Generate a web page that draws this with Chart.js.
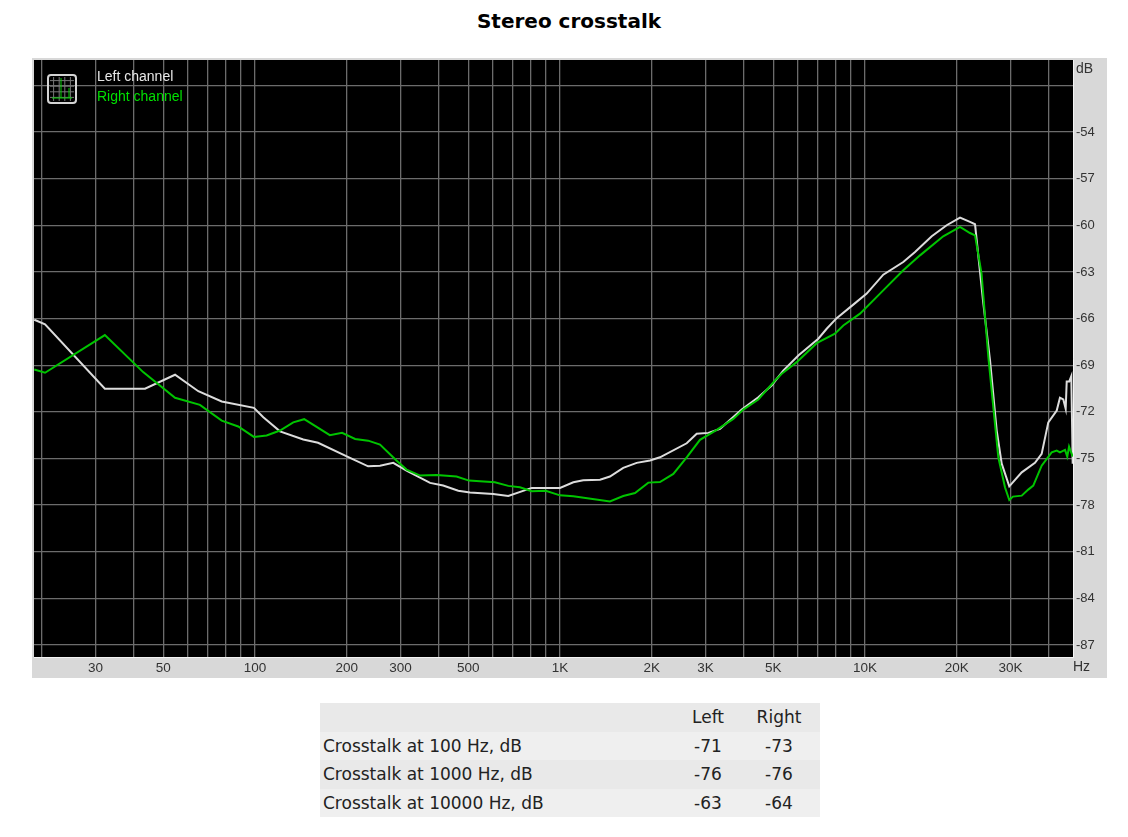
<html>

<head>
    <title>Stereo crosstalk</title>
    <style>
        html,
        body {
            margin: 0;
            background: #fff;
            font-family: "DejaVu Sans", sans-serif;
        }

        h1 {
            position: absolute;
            left: 0;
            top: 10px;
            width: 1138px;
            margin: 0;
            text-align: center;
            font-size: 20px;
            line-height: 22px;
            color: #000;
        }

        #chart {
            position: absolute;
            left: 32px;
            top: 58px;
        }

        table {
            position: absolute;
            left: 320px;
            top: 703px;
            width: 500px;
            border-collapse: collapse;
            table-layout: fixed;
            font-size: 17px;
            color: #222;
        }

        td {
            height: 28.5px;
            padding: 0 0 0 3px;
        }

        td.num {
            text-align: center;
            padding: 0;
        }

        tr:nth-child(odd) {
            background: #e9e9e9;
        }

        tr:nth-child(even) {
            background: #efefef;
        }
    </style>
</head>

<body>
    <h1>Stereo crosstalk</h1>
    <canvas id="chart" width="1075" height="620" style="width:1075px; height:620px;"></canvas>
    <table>
        <colgroup>
            <col style="width:358px">
            <col style="width:60px">
            <col style="width:82px">
        </colgroup>
        <tbody id="results"></tbody>
    </table>

    <script src="https://cdn.jsdelivr.net/npm/chart.js@4"></script>
    <script>
        // curves, Hz / dB
        var leftHz = [18.9, 20.5, 32.2, 43.6, 54.7, 65.2, 77.8, 99.2, 106.5, 120.8, 144, 161, 200, 235, 257, 284, 314, 375, 414, 464, 507, 604, 677, 808, 1000, 1106, 1192, 1353, 1458, 1612, 1784, 1973, 2127, 2603, 2807, 3064, 3347, 3943, 4469, 4944, 5395, 6045, 7029, 7488, 8075, 9154, 10130, 11480, 13350, 14590, 16550, 18530, 20490, 22090, 22950, 24370, 25700, 27030, 28070, 29720, 32650, 36080, 37950, 39900, 42520, 43570, 44690, 45500, 45850, 46750, 47470, 47970]
        var leftDb = [-66.07, -66.37, -70.51, -70.51, -69.61, -70.67, -71.33, -71.74, -72.34, -73.25, -73.78, -73.99, -74.86, -75.5, -75.46, -75.28, -75.78, -76.57, -76.74, -77.07, -77.18, -77.28, -77.41, -76.89, -76.89, -76.53, -76.4, -76.36, -76.16, -75.6, -75.28, -75.13, -74.92, -74.02, -73.41, -73.35, -73.09, -71.85, -71.06, -70.3, -69.34, -68.37, -67.29, -66.65, -65.97, -65.1, -64.39, -63.17, -62.36, -61.71, -60.7, -59.99, -59.5, -59.78, -59.93, -64.82, -68.69, -73.2, -75.33, -76.79, -75.89, -75.28, -74.7, -72.67, -71.91, -71.09, -71.2, -71.8, -70.04, -70.04, -69.7, -75.33]

        var rightHz = [18.9, 20.5, 32.2, 43, 54.7, 66, 77.8, 88.1, 99.2, 109.2, 120.8, 133.5, 145, 176, 193, 213, 235, 257, 291, 314, 348, 394, 458, 503, 612, 677, 739, 808, 898, 1000, 1106, 1458, 1612, 1762, 1948, 2127, 2353, 2603, 2877, 3265, 3700, 3990, 4469, 5070, 5333, 5971, 6943, 7970, 8490, 9630, 11200, 13350, 15150, 18050, 20490, 22090, 22950, 24100, 25380, 27360, 28770, 29720, 30560, 32650, 34300, 35620, 37950, 40930, 42520, 43570, 45270, 46050, 46670, 47970]
        var rightDb = [-69.27, -69.48, -67.06, -69.44, -71.09, -71.55, -72.56, -72.94, -73.61, -73.52, -73.2, -72.67, -72.47, -73.5, -73.35, -73.74, -73.85, -74.1, -75.13, -75.71, -76.1, -76.06, -76.16, -76.42, -76.53, -76.76, -76.85, -77.11, -77.07, -77.37, -77.43, -77.76, -77.41, -77.22, -76.55, -76.51, -75.99, -74.92, -73.8, -73.16, -72.45, -71.85, -71.2, -69.98, -69.55, -68.8, -67.58, -66.97, -66.44, -65.68, -64.39, -62.89, -61.93, -60.7, -60.1, -60.49, -60.64, -63.09, -68.48, -74.92, -76.85, -77.67, -77.45, -77.39, -77, -76.74, -75.46, -74.6, -74.49, -74.6, -74.44, -74.88, -74.23, -74.88]

        var xGrid = [20, 30, 40, 50, 60, 70, 80, 90, 100, 200, 300, 400, 500, 600, 700, 800, 900, 1000, 2000, 3000, 4000, 5000, 6000, 7000, 8000, 9000, 10000, 20000, 30000, 40000]
        var xLabelHz = [30, 50, 100, 200, 300, 500, 1000, 2000, 3000, 5000, 10000, 20000, 30000]
        var xLabelText = ['30', '50', '100', '200', '300', '500', '1K', '2K', '3K', '5K', '10K', '20K', '30K']
        var yGrid = [-87, -84, -81, -78, -75, -72, -69, -66, -63, -60, -57, -54, -51]
        var yLabelled = [-87, -84, -81, -78, -75, -72, -69, -66, -63, -60, -57, -54]

        var seriesNames = ['Left channel', 'Right channel']

        var tableHead = ['', 'Left', 'Right']
        var tableRows = ['Crosstalk at 100 Hz, dB', 'Crosstalk at 1000 Hz, dB', 'Crosstalk at 10000 Hz, dB']
        var tableLeft = [-71, -76, -63]
        var tableRight = [-73, -76, -64]

        var table = document.getElementById('results')
        function addRow(cells) {
            var tr = document.createElement('tr')
            cells.forEach((c, i) => {
                var td = document.createElement('td')
                td.textContent = c
                if (i > 0) td.className = 'num'
                tr.appendChild(td)
            })
            table.appendChild(tr)
        }
        addRow(tableHead)
        tableRows.forEach((name, i) => addRow([name, tableLeft[i], tableRight[i]]))

        function toPoints(xs, ys) {
            return xs.map((x, i) => ({ x: x, y: ys[i] }))
        }

        var fontName = '"Liberation Sans", Arial, sans-serif'

        // black plot area behind the grid
        var plotBack = {
            id: 'plotBack',
            beforeDraw(c) {
                var a = c.chartArea, ctx = c.ctx
                ctx.save()
                ctx.fillStyle = '#d8d8d8'
                ctx.fillRect(0, 0, c.width, c.height)
                ctx.fillStyle = '#000'
                ctx.fillRect(a.left, a.top, a.width, a.height)
                ctx.restore()
            }
        }

        // unit labels, legend text and the small analyzer icon
        var plotNotes = {
            id: 'plotNotes',
            afterDraw(c) {
                var a = c.chartArea, ctx = c.ctx
                ctx.save()
                ctx.strokeStyle = '#f4f4f4'
                ctx.lineWidth = 1
                ctx.beginPath()
                ctx.moveTo(a.right + 0.5, a.top)
                ctx.lineTo(a.right + 0.5, a.bottom + 0.5)
                ctx.lineTo(a.left, a.bottom + 0.5)
                ctx.stroke()

                ctx.font = '14px ' + fontName
                ctx.fillStyle = '#333'
                ctx.textBaseline = 'middle'
                ctx.textAlign = 'left'
                ctx.fillText('dB', a.right + 3, a.top + 9)
                ctx.fillText('Hz', a.right, a.bottom + 10)

                c.data.datasets.forEach((d, i) => {
                    ctx.fillStyle = d.legendColor
                    ctx.fillText(d.label, a.left + 63, a.top + 17 + i * 20)
                })

                var ix = a.left + 14, iy = a.top + 15, s = 28
                ctx.strokeStyle = '#777'
                ctx.lineWidth = 1
                ctx.beginPath()
                for (var k = 1; k < 5; k++) {
                    ctx.moveTo(ix + k * s / 5, iy + 2)
                    ctx.lineTo(ix + k * s / 5, iy + s - 2)
                    ctx.moveTo(ix + 2, iy + k * s / 5)
                    ctx.lineTo(ix + s - 2, iy + k * s / 5)
                }
                ctx.stroke()
                ctx.strokeStyle = '#00d000'
                ctx.beginPath()
                ctx.moveTo(ix + 4, iy + s - 5)
                ctx.lineTo(ix + s - 4, iy + s - 5)
                ctx.moveTo(ix + 13, iy + s - 5)
                ctx.lineTo(ix + 13, iy + 3)
                ctx.moveTo(ix + 21, iy + s - 5)
                ctx.lineTo(ix + 21, iy + 13)
                ctx.stroke()
                ctx.strokeStyle = '#d4d4d4'
                ctx.lineWidth = 2
                ctx.beginPath()
                ctx.roundRect(ix, iy, s, s, 3)
                ctx.stroke()
                ctx.restore()
            }
        }

        function noPadding(s) {
            s.paddingTop = 0
            s.paddingBottom = 0
            s.paddingLeft = 0
            s.paddingRight = 0
        }

        var my_chart = new Chart(document.getElementById('chart').getContext('2d'), {
            type: 'line',
            data: {
                datasets: [{
                    label: seriesNames[0],
                    data: toPoints(leftHz, leftDb),
                    borderColor: '#dcdcdc',
                    legendColor: '#e8e8e8',
                    borderWidth: 2,
                    order: 2
                }, {
                    label: seriesNames[1],
                    data: toPoints(rightHz, rightDb),
                    borderColor: '#00c400',
                    legendColor: '#00e000',
                    borderWidth: 2,
                    order: 1
                }]
            },
            options: {
                responsive: false,
                animation: false,
                layout: { padding: { left: 2, top: 2, right: 0, bottom: 0 } },
                elements: { point: { radius: 0 }, line: { tension: 0 } },
                plugins: { legend: { display: false }, title: { display: false }, tooltip: { enabled: false } },
                scales: {
                    x: {
                        type: 'logarithmic',
                        position: 'bottom',
                        min: 18.86,
                        max: 48080,
                        afterBuildTicks(s) { s.ticks = xGrid.map(v => ({ value: v })) },
                        afterFit(s) { s.height = 21; noPadding(s) },
                        border: { display: false },
                        grid: { color: '#6c6c6c', lineWidth: 1.3, drawTicks: false },
                        ticks: {
                            autoSkip: false,
                            maxRotation: 0,
                            padding: 3,
                            color: '#333',
                            font: { family: fontName, size: 13.5 },
                            callback(v) {
                                var i = xLabelHz.indexOf(v)
                                return i < 0 ? '' : xLabelText[i]
                            }
                        }
                    },
                    y: {
                        type: 'linear',
                        position: 'right',
                        min: -87.77,
                        max: -49.36,
                        afterBuildTicks(s) { s.ticks = yGrid.map(v => ({ value: v })) },
                        afterFit(s) { s.width = 34; noPadding(s) },
                        border: { display: false },
                        grid: { color: '#6c6c6c', lineWidth: 1.3, drawTicks: false },
                        ticks: {
                            autoSkip: false,
                            padding: 3,
                            color: '#333',
                            font: { family: fontName, size: 13 },
                            callback(v) { return yLabelled.indexOf(v) < 0 ? '' : String(v) }
                        }
                    }
                }
            },
            plugins: [plotBack, plotNotes]
        })
    </script>
</body>

</html>
